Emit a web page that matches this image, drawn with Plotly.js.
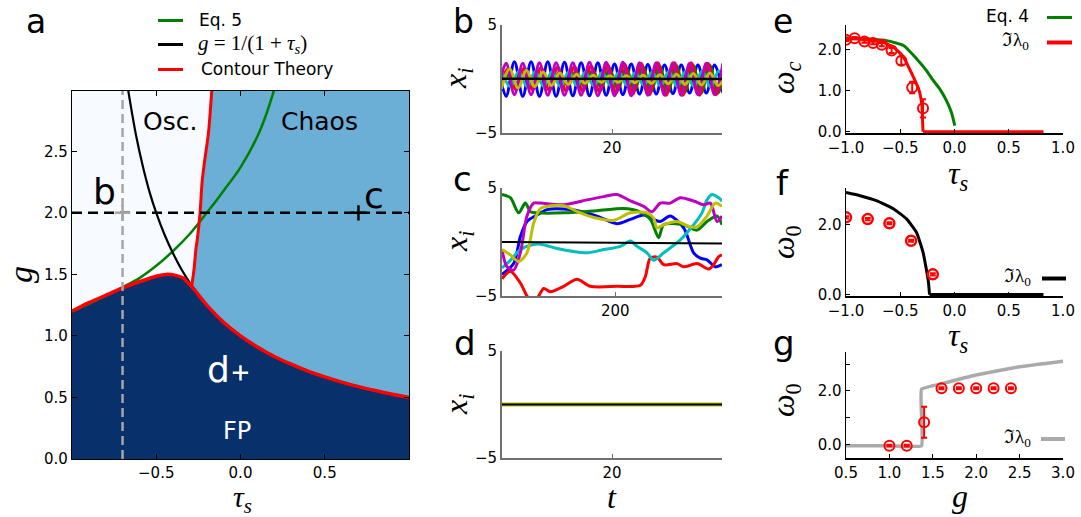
<!DOCTYPE html>
<html><head><meta charset="utf-8">
<script src="https://cdn.plot.ly/plotly-3.0.1.min.js"></script>
<style>html,body{margin:0;padding:0;background:#fff}#chart{width:1081px;height:517px}</style>
</head><body><div id="chart"></div>
<script>
// ---------- Panel a : phase diagram (tau_s, g) ----------
const aTauRange = [-1, 1];
const aGRange = [0, 3];
// lower red boundary (fixed point region)
const aFpTau = [-1,-0.9,-0.8,-0.7,-0.6,-0.5,-0.44,-0.38,-0.34,-0.31,-0.29,-0.27,-0.25,-0.2,-0.1,0,0.1,0.2,0.3,0.4,0.5,0.6,0.7,0.8,0.9,1.0];
const aFpG   = [1.2,1.27,1.33,1.39,1.44,1.485,1.5,1.49,1.47,1.43,1.40,1.37,1.333,1.25,1.11,1.0,0.91,0.833,0.77,0.714,0.667,0.625,0.588,0.556,0.526,0.5];
// red boundary between oscillation and chaos
const aChaosTau = [-0.29,-0.275,-0.265,-0.255,-0.24,-0.228,-0.215,-0.19,-0.17];
const aChaosG   = [1.40,1.55,1.70,1.80,2.0,2.25,2.40,2.65,3.0];
// g = 1/(1+tau_s)
const aBlackTau = [-0.667,-0.62,-0.58,-0.54,-0.5,-0.45,-0.4,-0.35,-0.3,-0.29,-0.2,-0.1,0,0.2,0.4,0.6,0.8,1.0];
const aBlackG   = [3.0,2.63,2.38,2.17,2.0,1.82,1.67,1.54,1.43,1.41,1.25,1.11,1.0,0.833,0.714,0.625,0.556,0.5];
// Eq. 5
const aEq5Tau = [-1,-0.9,-0.8,-0.7,-0.6,-0.5,-0.4,-0.3,-0.2,-0.1,0,0.1,0.15,0.2];
const aEq5G   = [1.2,1.26,1.325,1.395,1.47,1.57,1.69,1.83,2.0,2.18,2.37,2.62,2.79,3.0];
// dashed guides and sample points
const aVertTau = [-0.7,-0.7], aVertG = [0,3];
const aHorizTau = [-1,1], aHorizG = [2,2];
const aPointTau = [-0.7, 0.7, 0.0];
const aPointG = [2.0, 2.0, 0.7];

// ---------- Panel b : oscillating trajectories (extrema values) ----------
const bHalfPeriod = 1.365;
const bStartTimes = [1.3, 0.47, 1.56, 2.0, 1.3, 1.9]; // blue, green, red, cyan, magenta, yellow
const bBlue = [1.6,-1.6,1.6,-1.6,1.6,-1.6,1.6,-1.6,1.55,-1.55,1.5,-1.55,1.5,-1.5,1.4,-1.45,1.4,-1.4,1.35,-1.4,1.3,-1.35,1.3,-1.3,1.3,-1.3,1.3,-1.3];
const bGreen = [0.4,-0.4,0.45,-0.45,0.5,-0.5,0.55,-0.55,0.6,-0.6,0.7,-0.7,0.8,-0.8,0.9,-0.9,1.0,-1.0,1.1,-1.1,1.2,-1.2,1.25,-1.25,1.3,-1.3,1.3,-1.3,1.3];
const bRed = [-0.9,0.9,-1.0,1.0,-1.0,1.05,-1.05,1.1,-1.1,1.15,-1.15,1.2,-1.2,1.3,-1.3,1.4,-1.4,1.45,-1.45,1.5,-1.5,1.5,-1.5,1.5,-1.5,1.45,-1.45,1.45];
const bCyan = [0.7,-0.7,0.7,-0.7,0.7,-0.7,0.7,-0.7,0.65,-0.65,0.65,-0.65,0.6,-0.6,0.6,-0.6,0.6,-0.6,0.65,-0.65,0.7,-0.7,0.7,-0.7,0.75,-0.75,0.75,-0.75];
const bMagenta = [-1.4,1.45,-1.45,1.45,-1.45,1.5,-1.5,1.5,-1.5,1.5,-1.5,1.55,-1.55,1.55,-1.55,1.55,-1.55,1.5,-1.5,1.5,-1.5,1.5,-1.5,1.45,-1.45,1.45,-1.45,1.45];
const bYellow = [-0.9,0.95,-0.85,0.8,-0.7,0.65,-0.6,0.55,-0.5,0.45,-0.4,0.35,-0.3,0.3,-0.3,0.3,-0.35,0.35,-0.4,0.4,-0.45,0.45,-0.5,0.5,-0.55,0.55,-0.6,0.6];
const bMeanTime = [2, 38], bMean = [0.02, 0.0];

// ---------- Panel c : chaotic trajectories ----------
const cGreenT = [97,104.6,112.2,118.2,122.8,128.8,153.1,183.4,207.6,219.7,231.8,239.4,244.0,262.2,274.3,283.4,292.5,297.0];
const cGreen  = [4.4,4.1,2.7,3.6,2.8,2.7,2.7,2.9,3.1,2.9,2.1,0.4,1.6,1.6,1.1,1.9,2.4,1.6];
const cBlueT = [97,107.6,113.7,119.7,128.8,137.9,159.1,183.4,201.5,213.7,225.8,234.9,240.9,250.0,262.2,271.2,277.3,283.4,290.9,297.0];
const cBlue  = [-3.0,-2.0,0.5,1.9,2.5,3.0,3.0,2.4,1.7,2.1,2.5,2.1,1.9,2.4,1.3,-1.0,-1.5,-1.65,-2.3,-2.1];
const cMagentaT = [97,101.5,107.6,113.7,119.7,125.8,131.8,153.1,174.3,189.4,201.5,213.7,225.8,233.4,240.9,250.0,259.1,271.2,280.3,286.4,292.5,297.0];
const cMagenta  = [-0.7,-2.3,-2.6,-1.0,2.4,3.6,3.6,3.45,3.9,4.2,4.4,3.8,3.3,2.8,3.6,3.6,4.1,3.8,3.45,3.6,1.9,2.4];
const cYellowT = [97,104.6,112.2,119.7,125.8,131.8,140.9,153.1,168.2,183.4,198.5,213.7,228.8,234.9,237.9,244.0,256.1,268.2,274.3,283.4,290.9,297.0];
const cYellow  = [-0.7,-1.2,-1.8,-1.0,1.75,3.1,3.35,3.35,2.7,2.2,2.0,2.7,2.7,2.2,1.3,1.6,1.9,1.4,1.4,2.4,3.6,3.3];
const cCyanT = [97,104.6,113.7,122.8,131.8,147.0,174.3,189.4,204.6,213.7,219.7,228.8,234.9,244.0,259.1,271.2,278.8,283.4,287.9,294.0,297.0];
const cCyan  = [-2.4,-1.7,-0.7,-0.3,-0.2,-0.6,-1.0,-0.7,-0.4,0.1,-0.4,-1.0,-1.7,-1.0,0.2,1.6,2.7,3.9,4.4,4.1,3.8];
const cRedT = [97,104.6,113.7,119.7,122.8,128.8,134.9,141.0,153.1,165.2,177.3,201.5,222.8,227.3,231.8,237.9,244.0,256.1,262.2,274.3,284.9,289.4,294.0,297.0];
const cRed  = [-3.4,-2.7,-3.8,-5.0,-5.3,-5.2,-4.3,-4.6,-4.1,-3.45,-4.1,-4.1,-4.0,-3.2,-1.5,-1.4,-2.1,-2.0,-2.3,-2.0,-2.5,-2.1,-1.35,-1.2];
const cMeanT = [97, 297], cMean = [0.0, -0.15];

// ---------- Panel d : fixed point ----------
const dTime = [2, 38], dValues = [0, 0];

// ---------- Panel e ----------
const eEq4Tau = [-1,-0.8,-0.626,-0.47,-0.35,-0.258,-0.196,-0.135,-0.074,-0.028,0.003];
const eEq4W   = [2.29,2.26,2.22,2.10,1.78,1.49,1.25,1.04,0.76,0.47,0.15];
const eImTau = [-1,-0.81,-0.66,-0.56,-0.47,-0.40,-0.33,-0.30,-0.295,-0.29,0.82];
const eImW   = [2.27,2.25,2.18,2.06,1.82,1.45,1.04,0.64,0.31,0.0,0.0];
const eSimTau = [-1.0,-0.92,-0.83,-0.75,-0.67,-0.58,-0.49,-0.39,-0.29];
const eSimW   = [2.24,2.28,2.2,2.16,2.12,1.98,1.73,1.08,0.57];
const eSimErr = [0.03,0.03,0.03,0.03,0.04,0.06,0.1,0.14,0.22];

// ---------- Panel f ----------
const fImTau = [-1,-0.87,-0.72,-0.56,-0.44,-0.35,-0.29,-0.26,-0.24,-0.23,0.82];
const fImW   = [2.92,2.83,2.69,2.45,2.16,1.78,1.21,0.73,0.35,0.0,0.0];
const fSimTau = [-1.0,-0.8,-0.6,-0.4,-0.2];
const fSimW   = [2.21,2.16,2.04,1.54,0.58];
const fSimErr = [0.03,0.03,0.03,0.03,0.03];

// ---------- Panel g ----------
const gImG = [0.5,1.0,1.37,1.37,1.62,2.0,2.5,3.0];
const gImW = [-0.04,-0.04,-0.04,2.06,2.28,2.59,2.90,3.11];
const gSimG = [1.0,1.2,1.4,1.6,1.8,2.0,2.2,2.4];
const gSimW = [-0.04,-0.04,0.83,2.1,2.1,2.1,2.1,2.1];
const gSimErr = [0.03,0.03,0.58,0.04,0.04,0.04,0.04,0.04];

// ================= build =================
const W = 1081, H = 517;
const X = px => px / W;
const Y = py => 1 - py / H;
const MPL = {b:'#0000ff', g:'#008000', r:'#ff0000', c:'#00bfbf', m:'#bf00bf', y:'#bfbf00', k:'#000000'};
const traces = [];

// Panel a regions
const fpTail = aFpTau.map((t,i)=>[t,aFpG[i]]).filter(p=>p[0] >= aChaosTau[0]);
const chaosX = [...aChaosTau, aTauRange[1], ...fpTail.slice().reverse().map(p=>p[0])];
const chaosY = [...aChaosG, aGRange[1], ...fpTail.slice().reverse().map(p=>p[1])];
traces.push({x:chaosX, y:chaosY, mode:'lines', fill:'toself', fillcolor:'#6baed6', line:{width:0, color:'#6baed6'}, xaxis:'x', yaxis:'y'});
traces.push({x:[aTauRange[0], ...aFpTau, aTauRange[1]], y:[aGRange[0], ...aFpG, aGRange[0]], mode:'lines', fill:'toself', fillcolor:'#08306b', line:{width:0, color:'#08306b'}, xaxis:'x', yaxis:'y'});
traces.push({x:aEq5Tau, y:aEq5G, mode:'lines', line:{color:MPL.g, width:2.5, shape:'spline'}, xaxis:'x', yaxis:'y'});
traces.push({x:aBlackTau, y:aBlackG, mode:'lines', line:{color:'#000', width:2.2, shape:'spline'}, xaxis:'x', yaxis:'y'});
traces.push({x:aFpTau, y:aFpG, mode:'lines', line:{color:MPL.r, width:3.5, shape:'spline', smoothing:0.6}, xaxis:'x', yaxis:'y'});
traces.push({x:aChaosTau, y:aChaosG, mode:'lines', line:{color:MPL.r, width:3, shape:'spline', smoothing:0.6}, xaxis:'x', yaxis:'y'});
traces.push({x:aVertTau, y:aVertG, mode:'lines', line:{color:'#a6a6a6', width:2.5, dash:'9px,5px'}, xaxis:'x', yaxis:'y'});
traces.push({x:aHorizTau, y:aHorizG, mode:'lines', line:{color:'#000', width:2.5, dash:'10px,6px'}, xaxis:'x', yaxis:'y'});
traces.push({x:aPointTau, y:aPointG, mode:'markers', marker:{symbol:'cross-thin', size:11, color:['#a6a6a6','#000','#fff'], line:{width:2.5, color:['#a6a6a6','#000','#fff']}}, xaxis:'x', yaxis:'y'});

// Panel b
const bSeries = [[bBlue,MPL.b],[bGreen,MPL.g],[bRed,MPL.r],[bCyan,MPL.c],[bMagenta,MPL.m],[bYellow,MPL.y]];
bSeries.forEach(([vals,col],i)=>{
  traces.push({x:vals.map((v,k)=>bStartTimes[i]+k*bHalfPeriod), y:vals, mode:'lines', line:{color:col, width:3, shape:'spline', smoothing:1}, xaxis:'x2', yaxis:'y2'});
});
traces.push({x:bMeanTime, y:bMean, mode:'lines', line:{color:'#000', width:2.5}, xaxis:'x2', yaxis:'y2'});

// Panel c
[[cBlueT,cBlue,MPL.b],[cGreenT,cGreen,MPL.g],[cRedT,cRed,MPL.r],[cCyanT,cCyan,MPL.c],[cMagentaT,cMagenta,MPL.m],[cYellowT,cYellow,MPL.y]].forEach(([t,v,col])=>{
  traces.push({x:t, y:v, mode:'lines', line:{color:col, width:3, shape:'spline', smoothing:0.8}, xaxis:'x3', yaxis:'y3'});
});
traces.push({x:cMeanT, y:cMean, mode:'lines', line:{color:'#000', width:2}, xaxis:'x3', yaxis:'y3'});

// Panel d
[MPL.b,MPL.g,MPL.r,MPL.c,MPL.m].forEach(col=>traces.push({x:dTime, y:dValues, mode:'lines', line:{color:col, width:3}, xaxis:'x4', yaxis:'y4'}));
traces.push({x:dTime, y:dValues, mode:'lines', line:{color:MPL.y, width:4}, xaxis:'x4', yaxis:'y4'});
traces.push({x:dTime, y:dValues, mode:'lines', line:{color:'#000', width:2.2}, xaxis:'x4', yaxis:'y4'});

// curve with a flat tail: smooth part as spline, flat part straight
function curveWithTail(xs, ys, col, w, xa, ya){
  const k = ys.indexOf(0);
  traces.push({x:xs.slice(0,k+1), y:ys.slice(0,k+1), mode:'lines', line:{color:col, width:w, shape:'spline', smoothing:0.4}, xaxis:xa, yaxis:ya});
  traces.push({x:xs.slice(k), y:ys.slice(k), mode:'lines', line:{color:col, width:w}, xaxis:xa, yaxis:ya});
}
// Panel e
traces.push({x:eEq4Tau, y:eEq4W, mode:'lines', line:{color:MPL.g, width:3, shape:'spline', smoothing:0.5}, xaxis:'x5', yaxis:'y5'});
curveWithTail(eImTau, eImW, MPL.r, 3, 'x5', 'y5');
traces.push({x:eSimTau, y:eSimW, mode:'markers', marker:{symbol:'circle-open', size:10, color:MPL.r, line:{width:2, color:MPL.r}},
  error_y:{type:'data', array:eSimErr, color:MPL.r, thickness:2, width:3}, xaxis:'x5', yaxis:'y5'});

// Panel f
curveWithTail(fImTau, fImW, '#000', 3, 'x6', 'y6');
traces.push({x:fSimTau, y:fSimW, mode:'markers', marker:{symbol:'circle-open', size:10, color:MPL.r, line:{width:2.5, color:MPL.r}},
  error_y:{type:'data', array:fSimErr, color:MPL.r, thickness:2, width:3}, xaxis:'x6', yaxis:'y6'});

// Panel g
traces.push({x:gImG, y:gImW, mode:'lines', line:{color:'#aaaaaa', width:3.5, shape:'spline', smoothing:0.3}, xaxis:'x7', yaxis:'y7'});
traces.push({x:gSimG, y:gSimW, mode:'markers', marker:{symbol:'circle-open', size:10, color:MPL.r, line:{width:2, color:MPL.r}},
  error_y:{type:'data', array:gSimErr, color:MPL.r, thickness:2, width:3}, xaxis:'x7', yaxis:'y7'});

traces.forEach(t=>{t.showlegend=false; t.hoverinfo='skip';});

// axes
const tickFont = {family:'DejaVu Sans, sans-serif', size:15, color:'#000'};
function ax(domain, range, extra){
  return Object.assign({domain, range, showgrid:false, zeroline:false, ticks:'inside', ticklen:4, tickwidth:1,
    showline:true, tickfont:tickFont, fixedrange:true}, extra);
}
const grey = {linecolor:'#707070', linewidth:2, tickcolor:'#707070'};
const blk = {linecolor:'#000', linewidth:1.5, tickcolor:'#000'};
const layout = {
  width:W, height:H, margin:{l:0,r:0,t:0,b:0}, paper_bgcolor:'#fff', plot_bgcolor:'rgba(0,0,0,0)', showlegend:false,
  xaxis: ax([X(72),X(409)], aTauRange, {anchor:'y', tickvals:[-0.5,0,0.5], tickformat:'.1f', linecolor:'#000', linewidth:1.2, tickcolor:'#000', mirror:'ticks', ticklen:5}),
  yaxis: ax([Y(459),Y(91)], [0,2.99], {anchor:'x', tickvals:[0,0.5,1,1.5,2,2.5], tickformat:'.1f', linecolor:'#000', linewidth:1.2, tickcolor:'#000', mirror:'ticks', ticklen:5}),
  xaxis2: ax([X(502),X(722)], [2,38], Object.assign({anchor:'y2', tickvals:[20]}, grey)),
  yaxis2: ax([Y(133),Y(25)], [-5,5], Object.assign({anchor:'x2', tickvals:[-5,5]}, grey)),
  xaxis3: ax([X(502),X(722)], [97,297], Object.assign({anchor:'y3', tickvals:[200]}, grey)),
  yaxis3: ax([Y(296),Y(188)], [-5,5], Object.assign({anchor:'x3', tickvals:[-5,5]}, grey)),
  xaxis4: ax([X(502),X(722)], [2,38], Object.assign({anchor:'y4', tickvals:[20]}, grey)),
  yaxis4: ax([Y(458),Y(351)], [-5,5], Object.assign({anchor:'x4', tickvals:[-5,5]}, grey)),
  xaxis5: ax([X(846),X(1063)], [-1,1], Object.assign({anchor:'y5', tickvals:[-1,-0.5,0,0.5,1], tickformat:'.1f'}, blk)),
  yaxis5: ax([Y(133),Y(25)], [-0.03,2.6], Object.assign({anchor:'x5', tickvals:[0,1,2], tickformat:'.1f'}, blk)),
  xaxis6: ax([X(846),X(1063)], [-1,1], Object.assign({anchor:'y6', tickvals:[-1,-0.5,0,0.5,1], tickformat:'.1f'}, blk)),
  yaxis6: ax([Y(296),Y(188)], [-0.04,3.05], Object.assign({anchor:'x6', tickvals:[0,2], tickformat:'.1f'}, blk)),
  xaxis7: ax([X(846),X(1063)], [0.5,3.0], Object.assign({anchor:'y7', tickvals:[0.5,1,1.5,2,2.5,3], tickformat:'.1f'}, blk)),
  yaxis7: ax([Y(458),Y(352)], [-0.5,3.45], Object.assign({anchor:'x7', tickvals:[0,1,2,3], ticktext:['0.0',' ','2.0',' ']}, blk)),
  shapes: [
    {type:'rect', xref:'x domain', yref:'y domain', x0:0, x1:1, y0:0, y1:1, fillcolor:'#f7fbff', line:{width:0}, layer:'below'},
    // legend keys
    {type:'line', xref:'paper', yref:'paper', x0:X(158), x1:X(183), y0:Y(20.5), y1:Y(20.5), line:{color:MPL.g, width:3}},
    {type:'line', xref:'paper', yref:'paper', x0:X(158), x1:X(183), y0:Y(44.5), y1:Y(44.5), line:{color:'#000', width:3}},
    {type:'line', xref:'paper', yref:'paper', x0:X(158), x1:X(183), y0:Y(69.5), y1:Y(69.5), line:{color:MPL.r, width:3}},
    {type:'line', xref:'paper', yref:'paper', x0:X(1047), x1:X(1072), y0:Y(17.5), y1:Y(17.5), line:{color:MPL.g, width:3}},
    {type:'line', xref:'paper', yref:'paper', x0:X(1047), x1:X(1072), y0:Y(42.5), y1:Y(42.5), line:{color:MPL.r, width:4}},
    {type:'line', xref:'paper', yref:'paper', x0:X(1042), x1:X(1066), y0:Y(278.5), y1:Y(278.5), line:{color:'#000', width:4}},
    {type:'line', xref:'paper', yref:'paper', x0:X(1041), x1:X(1065), y0:Y(439), y1:Y(439), line:{color:'#aaaaaa', width:4}}
  ],
  annotations: []
};
const SANS = 'DejaVu Sans, sans-serif';
const SERIF = 'Liberation Serif, DejaVu Serif, serif';
function pann(text, px, py, size, opt){
  layout.annotations.push(Object.assign({text, x:X(px), y:Y(py), xref:'paper', yref:'paper', showarrow:false,
    xanchor:'center', yanchor:'middle', font:{family:SANS, size, color:'#000'}}, opt||{}));
}
function dann(text, tx, ty, size, color){
  layout.annotations.push({text, x:tx, y:ty, xref:'x', yref:'y', showarrow:false, xanchor:'center', yanchor:'middle', font:{family:SANS, size, color}});
}
// panel letters
pann('a', 36, 0, 33, {yanchor:'top'});
pann('b', 463, 0, 33, {yanchor:'top'});
pann('c', 462, 179, 34);
pann('d', 465, 343, 34);
pann('e', 783, 0, 33, {yanchor:'top'});
pann('f', 782, 183, 34);
pann('g', 784, 343, 34);
// panel a labels
dann('Osc.', -0.42, 2.74, 25, '#000');
dann('Chaos', 0.47, 2.74, 25, '#000');
dann('b', -0.81, 2.17, 36, '#000');
dann('c', 0.79, 2.14, 36, '#000');
dann('d', -0.13, 0.73, 36, '#fff');
dann('FP', -0.02, 0.23, 24, '#fff');
// legend texts, panel a
pann('Eq. 5', 197, 20, 17, {xanchor:'left'});
pann('<i>g</i> = 1/(1 + <i>τ</i><sub><i>s</i></sub>)', 196, 44, 21, {xanchor:'left', font:{family:SERIF, size:21, color:'#000'}});
pann('Contour Theory', 199, 69, 17, {xanchor:'left'});
// legend texts e,f,g
pann('Eq. 4', 1031, 16, 17, {xanchor:'right'});
pann('ℑλ<sub>0</sub>', 1031, 41, 18, {xanchor:'right', font:{family:SERIF, size:19, color:'#000'}});
pann('ℑλ<sub>0</sub>', 1033, 277, 18, {xanchor:'right', font:{family:SERIF, size:19, color:'#000'}});
pann('ℑλ<sub>0</sub>', 1033, 438, 18, {xanchor:'right', font:{family:SERIF, size:19, color:'#000'}});
// axis titles
const mf = s => ({family:SERIF, size:s, color:'#000'});
pann('<i>g</i>', 20, 275, 32, {textangle:-90, font:mf(34)});
pann('<i>τ</i><sub><i>s</i></sub>', 242, 499, 30, {font:mf(30)});
pann('<i>x</i><sub><i>i</i></sub>', 458, 79, 30, {textangle:-90, font:mf(32)});
pann('<i>x</i><sub><i>i</i></sub>', 458, 242, 30, {textangle:-90, font:mf(32)});
pann('<i>x</i><sub><i>i</i></sub>', 458, 405, 30, {textangle:-90, font:mf(32)});
pann('<i>t</i>', 612, 497, 32, {font:mf(32)});
pann('<i>ω</i><sub><i>c</i></sub>', 785, 78, 30, {textangle:-90, font:mf(32)});
pann('<i>τ</i><sub><i>s</i></sub>', 958, 175, 30, {font:mf(32)});
pann('<i>ω</i><sub>0</sub>', 785, 242, 30, {textangle:-90, font:mf(32)});
pann('<i>τ</i><sub><i>s</i></sub>', 958, 337, 30, {font:mf(32)});
pann('<i>ω</i><sub>0</sub>', 785, 400, 30, {textangle:-90, font:mf(32)});
pann('<i>g</i>', 960, 496, 32, {font:mf(32)});

Plotly.newPlot('chart', traces, layout, {staticPlot:true, displayModeBar:false});
</script>
</body></html>
